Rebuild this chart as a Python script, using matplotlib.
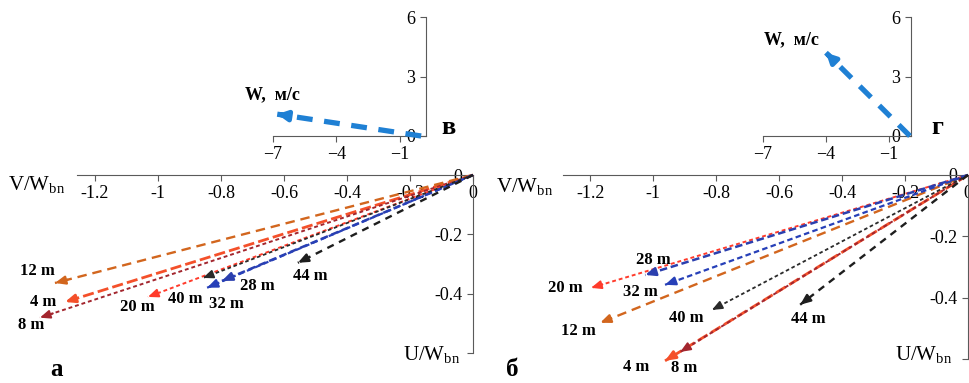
import matplotlib.pyplot as plt

plt.rcParams['font.family'] = ['Liberation Serif', 'DejaVu Serif']
plt.rcParams['mathtext.fontset'] = 'custom'
plt.rcParams['mathtext.rm'] = 'Liberation Serif'

# depths of the current vectors
depths = ['4 m', '8 m', '12 m', '20 m', '28 m', '32 m', '40 m', '44 m']

# panel а: ends of the normalised current vectors (U/Wbn, V/Wbn)
u_a = [-1.295, -1.375, -1.327, -1.032, -0.797, -0.844, -0.857, -0.556]
v_a = [-0.428, -0.481, -0.364, -0.411, -0.357, -0.380, -0.347, -0.296]

# panel б
u_b = [-0.962, -0.914, -1.168, -1.197, -1.025, -0.962, -0.813, -0.533]
v_b = [-0.606, -0.577, -0.482, -0.368, -0.326, -0.358, -0.440, -0.423]

# wind vectors, m/s (insets в and г)
wind_v = [-6.8, 1.1]
wind_g = [-4.0, 4.2]

x_ticks = [-1.2, -1, -0.8, -0.6, -0.4, -0.2, 0]
x_labels = ['-1.2', '-1', '-0.8', '-0.6', '-0.4', '-0.2', '0']
y_ticks = [0, -0.2, -0.4, -0.6]
y_labels = ['0', '-0.2', '-0.4', '']
w_xticks = [-7, -4, -1]
w_yticks = [0, 3, 6]

# line styles per depth
colors = ['#f4502a', '#a3262e', '#d2661e', '#ff3b2b', '#2b3fae', '#2740b8', '#2a2a2a', '#1e1e1e']
widths = [2.0, 1.4, 1.7, 1.4, 1.8, 1.6, 1.3, 1.7]
dashes = [(4, 1.5), (2, 1.5), (4, 2.5), (2, 1.5), (3, 1.5), (2.5, 1.5), (2, 1.5), (3, 2.5)]

# label offsets from the arrow tips, pixels
off_a = [(-22, 0), (-9, -7), (-18, 12), (-11, -10), (35, -5), (19, -16), (-18, -21), (12, -13)]
off_b = [(-29, -6), (4, -16), (-22, -8), (-26, 0), (8, 15), (-25, -7), (-26, -8), (8, -14)]

W, H = 970, 383
fig = plt.figure(figsize=(9.7, 3.83), dpi=100)
axis_col = '#5a5a5a'


def box(x0, y0, x1, y1):
    # pixel box -> figure fractions
    return [x0 / W, 1 - y1 / H, (x1 - x0) / W, (y1 - y0) / H]


def main_axes(rect, xmin):
    ax = fig.add_axes(rect)
    ax.set_xlim(xmin, 0)
    ax.set_ylim(-0.6, 0)
    for s in ['top', 'right']:
        ax.spines[s].set_visible(False)
    ax.spines['left'].set_position(('data', 0))
    ax.spines['bottom'].set_position(('data', 0))
    for s in ['left', 'bottom']:
        ax.spines[s].set_color(axis_col)
    ax.set_xticks(x_ticks)
    ax.set_xticklabels(x_labels)
    ax.set_yticks(y_ticks)
    ax.set_yticklabels(y_labels)
    ax.tick_params(colors=axis_col, labelcolor='black', labelsize=13, length=4)
    ax.patch.set_visible(False)
    return ax


def draw_vectors(ax, us, vs, offs):
    for i in range(len(depths)):
        x, y = us[i], vs[i]
        ax.plot([0, x], [0, y], color=colors[i], lw=widths[i], dashes=dashes[i],
                clip_on=False, zorder=3)
        ax.annotate('', xy=(x, y), xytext=(x * 0.97, y * 0.97),
                    arrowprops=dict(arrowstyle='-|>,head_length=0.6,head_width=0.25',
                                    color=colors[i], lw=widths[i], shrinkA=0, shrinkB=0),
                    annotation_clip=False, zorder=4)
        ax.annotate(depths[i], xy=(x, y), xytext=offs[i], textcoords='offset pixels',
                    ha='center', va='center', fontsize=12, fontweight='bold',
                    annotation_clip=False)


def wind_axes(rect, xmax, w):
    ax = fig.add_axes(rect)
    ax.set_xlim(-7, xmax)
    ax.set_ylim(0, 6)
    for s in ['top', 'right']:
        ax.spines[s].set_visible(False)
    ax.spines['left'].set_position(('axes', 1))
    for s in ['left', 'bottom']:
        ax.spines[s].set_color(axis_col)
    ax.set_xticks(w_xticks)
    ax.set_yticks(w_yticks)
    ax.tick_params(colors=axis_col, labelcolor='black', labelsize=13, length=4)
    ax.patch.set_visible(False)
    ax.plot([0, w[0]], [0, w[1]], color='#1f80d4', lw=3.8, dashes=(3, 2.2),
            clip_on=False, zorder=3)
    ax.annotate('', xy=(w[0], w[1]), xytext=(w[0] * 0.97, w[1] * 0.97),
                arrowprops=dict(arrowstyle='-|>,head_length=0.55,head_width=0.28',
                                color='#1f80d4', lw=3.5, shrinkA=0, shrinkB=0),
                annotation_clip=False, zorder=4)
    return ax


ax_a = main_axes(box(77, 175, 473, 353), -1.257)
draw_vectors(ax_a, u_a, v_a, off_a)
ax_b = main_axes(box(563, 175, 968, 359), -1.286)
draw_vectors(ax_b, u_b, v_b, off_b)

wind_axes(box(273, 17, 426, 136), 0.23, wind_v)
wind_axes(box(763, 17, 911, 136), 0.05, wind_g)

sub = r'$_\mathregular{bn}$'
fig.text(37 / W, 1 - 185 / H, 'V/W' + sub, fontsize=15, ha='center', va='center')
fig.text(525 / W, 1 - 187 / H, 'V/W' + sub, fontsize=15, ha='center', va='center')
fig.text(432 / W, 1 - 355 / H, 'U/W' + sub, fontsize=15, ha='center', va='center')
fig.text(924 / W, 1 - 355 / H, 'U/W' + sub, fontsize=15, ha='center', va='center')

fig.text(272 / W, 1 - 95 / H, 'W,  м/с', fontsize=13, fontweight='bold', ha='center', va='center')
fig.text(791 / W, 1 - 40 / H, 'W,  м/с', fontsize=13, fontweight='bold', ha='center', va='center')
fig.text(448 / W, 1 - 128 / H, 'в', fontsize=19, fontweight='bold', ha='center', va='center')
fig.text(937 / W, 1 - 127 / H, 'г', fontsize=19, fontweight='bold', ha='center', va='center')
fig.text(57 / W, 1 - 376 / H, 'а', fontsize=18, fontweight='bold', ha='center', va='baseline')
fig.text(512 / W, 1 - 376 / H, 'б', fontsize=18, fontweight='bold', ha='center', va='baseline')

fig.savefig('out.png', dpi=100)
